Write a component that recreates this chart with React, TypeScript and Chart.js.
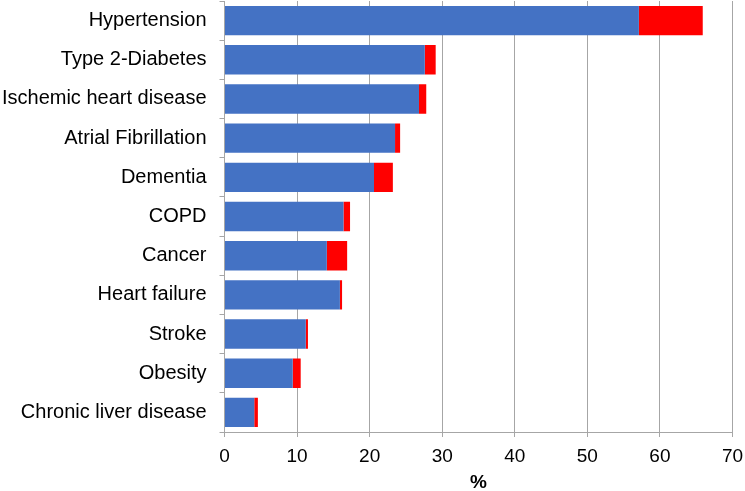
import React, { useEffect, useRef } from "react";
import { Chart, registerables } from "chart.js";

Chart.register(...registerables);

const categories = [
  "Hypertension",
  "Type 2-Diabetes",
  "Ischemic heart disease",
  "Atrial Fibrillation",
  "Dementia",
  "COPD",
  "Cancer",
  "Heart failure",
  "Stroke",
  "Obesity",
  "Chronic liver disease",
];

const blueValues = [57.1, 27.6, 26.8, 23.5, 20.6, 16.4, 14.1, 15.9, 11.2, 9.4, 4.1];
const redValues = [8.8, 1.5, 1.0, 0.7, 2.6, 0.9, 2.8, 0.3, 0.3, 1.1, 0.5];

const xMin = 0;
const xMax = 70;
const xStep = 10;
const xTitle = "%";

export default function App() {
  const ref = useRef<HTMLCanvasElement | null>(null);

  useEffect(() => {
    document.body.style.margin = "0";
    if (!ref.current) return;
    const font = "'Liberation Sans', Arial, Helvetica, sans-serif";
    const chart = new Chart(ref.current, {
      type: "bar",
      data: {
        labels: categories,
        datasets: [
          {
            data: blueValues,
            backgroundColor: "#4472C4",
            borderWidth: 0,
            barPercentage: 0.75,
            categoryPercentage: 1,
          },
          {
            data: redValues,
            backgroundColor: "#FF0000",
            borderWidth: 0,
            barPercentage: 0.75,
            categoryPercentage: 1,
          },
        ],
      },
      options: {
        indexAxis: "y",
        animation: false,
        responsive: false,
        maintainAspectRatio: false,
        layout: { padding: { top: 1, right: 0, left: 0, bottom: 0 } },
        plugins: {
          legend: { display: false },
          tooltip: { enabled: false },
        },
        scales: {
          x: {
            stacked: true,
            min: xMin,
            max: xMax,
            ticks: {
              stepSize: xStep,
              color: "#000",
              font: { family: font, size: 19 },
              padding: 8,
            },
            grid: {
              color: "#A6A6A6",
              lineWidth: 1,
              drawTicks: true,
              tickLength: 5,
            },
            border: { color: "#A6A6A6", width: 1 },
            title: {
              display: true,
              text: xTitle,
              color: "#000",
              font: { family: font, size: 19, weight: "bold" },
              padding: { top: 0, bottom: -3 },
            },
            afterFit: (scale: any) => {
              scale.height = 59;
              scale.paddingRight = 12.5;
              scale.paddingLeft = 0;
            },
          },
          y: {
            stacked: true,
            ticks: {
              color: "#000",
              font: { family: font, size: 20 },
              padding: 13,
            },
            grid: {
              offset: true,
              drawOnChartArea: false,
              drawTicks: true,
              tickLength: 5,
              color: "#A6A6A6",
            },
            border: { color: "#A6A6A6", width: 1 },
            afterFit: (scale: any) => {
              scale.width = 224.5;
              scale.paddingTop = 0;
              scale.paddingBottom = 0;
            },
          },
        },
      },
    });
    return () => chart.destroy();
  }, []);

  return (
    <div style={{ width: 745, height: 491 }}>
      <canvas ref={ref} width={745} height={491} style={{ width: 745, height: 491 }} />
    </div>
  );
}
